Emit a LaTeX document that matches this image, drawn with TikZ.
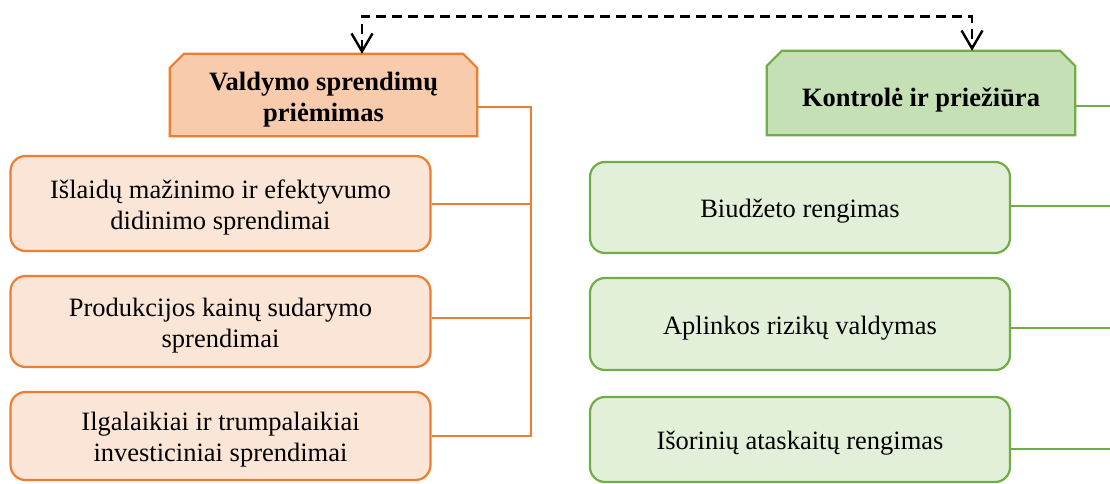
\documentclass[tikz,border=0pt]{standalone}
\usepackage{fontspec}
\setmainfont{Liberation Serif}
\usetikzlibrary{arrows.meta,backgrounds,calc}

\definecolor{orgline}{HTML}{ED7D31}
\definecolor{orghead}{HTML}{F8CBAD}
\definecolor{orgfill}{HTML}{FBE5D6}
\definecolor{grnline}{HTML}{70AD47}
\definecolor{grnhead}{HTML}{C5E0B4}
\definecolor{grnfill}{HTML}{E2F0D9}

\tikzset{
  txt/.style={font=\fontsize{26.5}{31}\selectfont, align=center, inner sep=0pt, text=black},
  hdrtxt/.style={txt, font=\fontsize{26.5}{31}\selectfont\bfseries},
  item/.style={rectangle, rounded corners=15pt, line width=2.2pt, minimum width=420pt, inner sep=0pt},
  obox/.style={item, draw=orgline, fill=orgfill},
  gbox/.style={item, draw=grnline, fill=grnfill},
  hdr/.style={rectangle, inner sep=0pt, draw=none},
  chamf/.style={line width=2.2pt, line join=miter},
  olink/.style={draw=orgline, line width=2pt},
  glink/.style={draw=grnline, line width=2pt},
  flow/.style={line width=2.4pt, dash pattern=on 10pt off 6pt,
    {Straight Barb[length=18pt,width=21pt]}-{Straight Barb[length=18pt,width=21pt]}},
}

\begin{document}
\begin{tikzpicture}[x=1pt,y=-1pt]
\useasboundingbox (0,0) rectangle (1110,483);

% header blocks (shape drawn behind the text)
\node[hdr, minimum width=307pt, minimum height=82pt,
      label={[hdrtxt,yshift=-5pt]center:{Valdymo sprendimų\\priėmimas}}] (hL) at (323.5,95) {};
\node[hdr, minimum width=308pt, minimum height=84pt,
      label={[hdrtxt,yshift=-7pt]center:{Kontrolė ir priežiūra}}] (hR) at (921,93) {};

\begin{scope}[on background layer]
  \filldraw[chamf, draw=orgline, fill=orghead]
    (hL.south west) -- ([yshift=-14pt]hL.north west) -- ([xshift=14pt]hL.north west)
    -- ([xshift=-14pt]hL.north east) -- ([yshift=-14pt]hL.north east) -- (hL.south east) -- cycle;
  \filldraw[chamf, draw=grnline, fill=grnhead]
    (hR.south west) -- ([yshift=-15pt]hR.north west) -- ([xshift=15pt]hR.north west)
    -- ([xshift=-15pt]hR.north east) -- ([yshift=-15pt]hR.north east) -- (hR.south east) -- cycle;
\end{scope}

% left column
\node[obox, minimum height=95pt,
      label={[txt,yshift=-4pt]center:{Išlaidų mažinimo ir efektyvumo\\didinimo sprendimai}}] (o1) at (220.5,203.5) {};
\node[obox, minimum height=91pt,
      label={[txt,yshift=-4pt]center:{Produkcijos kainų sudarymo\\sprendimai}}] (o2) at (220.5,321.5) {};
\node[obox, minimum height=88pt,
      label={[txt,yshift=-4pt]center:{Ilgalaikiai ir trumpalaikiai\\investiciniai sprendimai}}] (o3) at (220.5,436) {};

% right column
\node[gbox, minimum height=91pt,
      label={[txt,yshift=-4pt]center:{Biudžeto rengimas}}] (g1) at (800,207.5) {};
\node[gbox, minimum height=92pt,
      label={[txt,yshift=-4pt]center:{Aplinkos rizikų valdymas}}] (g2) at (800,324) {};
\node[gbox, minimum height=85pt,
      label={[txt,yshift=-4pt]center:{Išorinių ataskaitų rengimas}}] (g3) at (800,439.5) {};

% orange bracket
\coordinate (oT) at (531,107);
\draw[olink] (hL.east |- oT) -- (oT) -- (oT |- o3.east) -- (o3.east);
\draw[olink] (o1.east) -- (o1.east -| oT);
\draw[olink] ([yshift=3.5pt]o2.east) -- ([yshift=3.5pt]o2.east -| oT);

% green lines to the right
\coordinate (gE) at (1110,106);
\draw[glink] (hR.east |- gE) -- (gE);
\draw[glink] ([yshift=1.5pt]g1.east) -- ([yshift=1.5pt]g1.east -| gE);
\draw[glink] ([yshift=-4pt]g2.east) -- ([yshift=-4pt]g2.east -| gE);
\draw[glink] ([yshift=-9.5pt]g3.east) -- ([yshift=-9.5pt]g3.east -| gE);

% dashed link between the two headers
\coordinate (dL) at (362,16.5);
\coordinate (dR) at (972,16.5);
\draw[flow] (dL |- hL.north) -- (dL) -- (dR) -- (dR |- hR.north);
\end{tikzpicture}
\end{document}
